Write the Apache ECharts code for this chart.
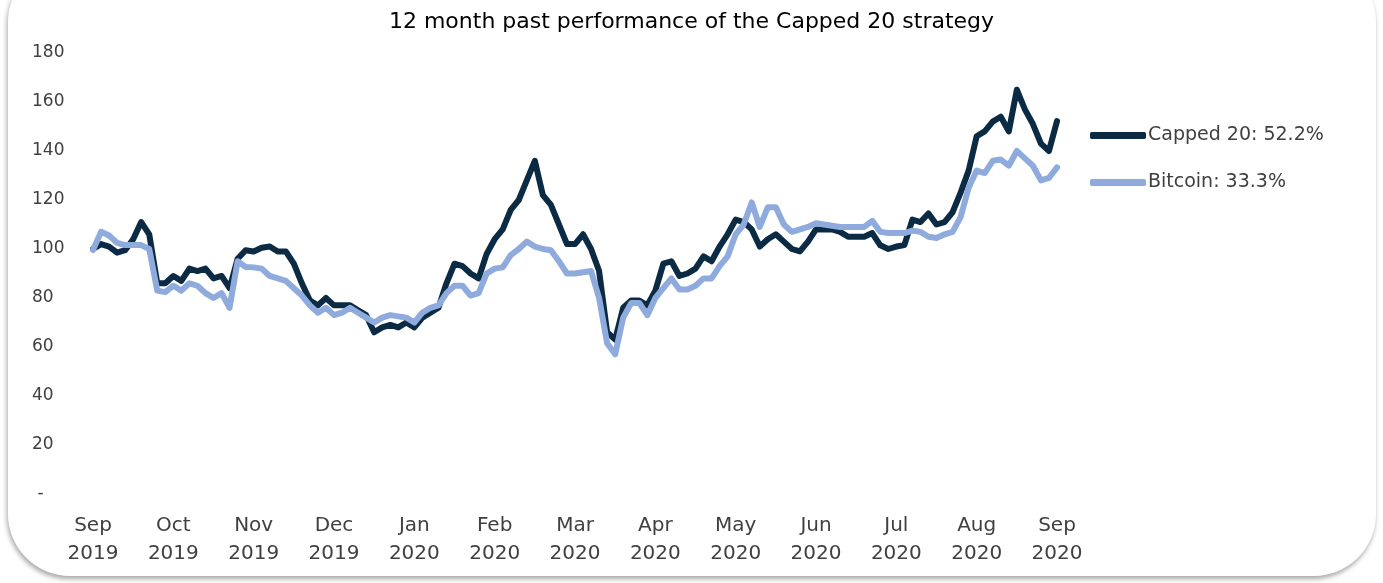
<!DOCTYPE html>
<html>
<head>
<meta charset="utf-8">
<script src="https://cdn.jsdelivr.net/npm/echarts/dist/echarts.min.js"></script>
<style>
	html,body{margin:0;padding:0;background:#fff;overflow:hidden;}
	#card{position:absolute;left:8px;top:-40px;width:1368px;height:616px;border-radius:62px;background:#fff;
		box-shadow:-1px 3px 5px rgba(0,0,0,0.35);}
	#main{position:absolute;left:0;top:0;width:1383px;height:583px;}
</style>
</head>
<body>
<div id="card"></div>
<div id="main"></div>
<script>
	// month tick labels, one every 10 points
	var monthLabels = ['Sep\n2019','Oct\n2019','Nov\n2019','Dec\n2019','Jan\n2020','Feb\n2020','Mar\n2020',
		'Apr\n2020','May\n2020','Jun\n2020','Jul\n2020','Aug\n2020','Sep\n2020'];
	var yTicks = [0,20,40,60,80,100,120,140,160,180];

	// Capped 20 index value (start = 100)
	var capped20 = [
		100, 102, 101, 98.5, 99.5, 104, 111, 106, 86, 86,
		89, 87, 92, 91, 92, 88, 89, 84, 96, 99.5,
		99, 100.5, 101, 99, 99, 94, 86, 79, 77, 80,
		77, 77, 77, 75, 73, 66, 68, 69, 68, 70,
		68, 72, 74, 76, 86, 94, 93, 90, 88, 98,
		104, 108, 116, 120, 128, 136, 122, 118, 110, 102,
		102, 106, 100, 91, 66, 63, 76, 79, 79, 77,
		83, 94, 95, 89, 90, 92, 97, 95, 101, 106,
		112, 111, 108, 101, 104, 106, 103, 100, 99, 103,
		108, 108, 108, 107, 105, 105, 105, 106.5, 101.5, 100,
		101, 101.6, 112, 111, 114.5, 110, 111, 115, 123, 132,
		146, 148, 152, 154, 148, 165, 157, 151, 143, 140,
		152.2
	];
	// Bitcoin index value (start = 100)
	var bitcoin = [
		99.6, 107, 105.5, 102.5, 101.6, 101.6, 101.6, 100, 83, 82.4,
		85, 83, 86, 85, 82, 80, 82, 76, 95, 92.7,
		92.5, 92, 89, 88, 87, 84, 81, 77, 74, 76,
		73, 74, 76, 74, 72, 70, 72, 73, 72.5, 72,
		70, 74, 76, 77, 82, 85, 85, 81, 82, 90,
		92, 92.5, 97.5, 100, 103, 101, 100, 99.5, 95, 90,
		90, 90.5, 91, 80, 61.5, 57, 72, 78, 78, 73,
		80, 84, 88, 83.5, 83.5, 85, 88, 88, 93, 97,
		106, 110, 119, 109, 117, 117, 110, 107, 108, 109,
		110.5, 110, 109.5, 109, 109, 109, 109, 111.5, 107, 106.5,
		106.5, 106.5, 107.5, 107, 105, 104.5, 106, 107, 113, 125,
		132, 131, 136, 136.5, 134, 140, 137, 134, 128, 129,
		133.3
	];

	var xData = [];
	for(var i = 0; i < capped20.length; i++){
		xData.push('p' + i);
	}
	var font = 'DejaVu Sans';

	var chart = echarts.init(document.getElementById('main'));
	var option = {
		animation:false,
		backgroundColor:'transparent',
		color:['#0b2b44','#8faadc'],
		title:{
			text:'12 month past performance of the Capped 20 strategy',
			left:'center',
			top:6,
			textStyle:{
				fontFamily:font,
				fontWeight:'normal',
				fontSize:22,
				color:'#000'
			}
		},
		legend:{
			orient:'vertical',
			left:1085,
			top:121,
			icon:'roundRect',
			itemWidth:56,
			itemHeight:7,
			itemGap:28,
			selectedMode:false,
			textStyle:{
				fontFamily:font,
				fontSize:19,
				color:'#404040',
				padding:[0,0,0,-3]
			},
			data:['Capped 20: 52.2%','Bitcoin: 33.3%']
		},
		grid:{
			left:93,
			right:326,
			top:53,
			bottom:89
		},
		xAxis:{
			type:'category',
			boundaryGap:false,
			data:xData,
			axisLine:{show:false},
			axisTick:{show:false},
			splitLine:{show:false},
			axisLabel:{
				interval:9,
				margin:18,
				fontFamily:font,
				fontSize:20,
				lineHeight:28,
				color:'#404040',
				formatter:function(v, idx){
					return monthLabels[Math.round(idx / 10)];
				}
			}
		},
		yAxis:{
			type:'value',
			min:yTicks[0],
			max:yTicks[yTicks.length - 1],
			interval:yTicks[1] - yTicks[0],
			axisLine:{show:false},
			axisTick:{show:false},
			splitLine:{show:false},
			axisLabel:{
				align:'left',
				margin:61,
				fontFamily:font,
				fontSize:17,
				color:'#404040',
				formatter:function(v){
					return v === 0 ? ' -' : v;
				}
			}
		},
		series:[
			{
				name:'Capped 20: 52.2%',
				type:'line',
				symbol:'none',
				data:capped20,
				lineStyle:{width:6, cap:'round', join:'round'}
			},
			{
				name:'Bitcoin: 33.3%',
				type:'line',
				symbol:'none',
				data:bitcoin,
				lineStyle:{width:6, cap:'round', join:'round'}
			}
		]
	};
	chart.setOption(option);
</script>
</body>
</html>
